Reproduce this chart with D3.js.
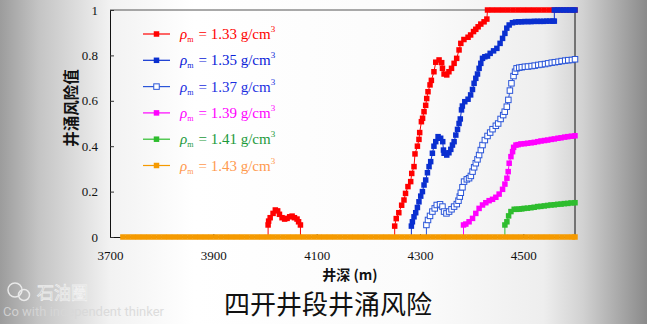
<!DOCTYPE html>
<html><head><meta charset="utf-8">
<script src="https://cdn.jsdelivr.net/npm/d3@7"></script>
<style>
html,body{margin:0;padding:0;background:#fff;}
svg{display:block;}
</style></head>
<body>
<svg id="chart" width="647" height="324"></svg>
<script>
// ---------- DATA ----------
const xTicks = [3700, 3900, 4100, 4300, 4500];
const yTicks = [0, 0.2, 0.4, 0.6, 0.8, 1];
const yTickLabels = ["0", "0.2", "0.4", "0.6", "0.8", "1"];
const densities = ["1.33", "1.35", "1.37", "1.39", "1.41", "1.43"];

const s133 = [
  [3725,0],[4006,0],[4006,0.053],[4007,0.07],[4010,0.085],[4015.6,0.104],[4020,0.119],[4024.5,0.115],[4028,0.1],
  [4033,0.085],[4038,0.079],[4042.8,0.082],[4047.8,0.089],[4052.5,0.092],[4057,0.085],[4062,0.079],[4065,0.067],
  [4068.6,0.053],[4068.6,0],[4251,0],[4251,0.048],[4254,0.081],[4259,0.107],[4264.5,0.14],[4269,0.163],[4272,0.192],
  [4276.7,0.222],[4282,0.244],[4284,0.28],[4288.4,0.31],[4290.3,0.366],[4295,0.40],[4298,0.43],[4299.4,0.46],
  [4302.7,0.508],[4305,0.523],[4307.8,0.552],[4311,0.58],[4313,0.61],[4315.5,0.64],[4319.4,0.67],[4322,0.69],
  [4327,0.728],[4330.5,0.77],[4336.9,0.78],[4342,0.768],[4343.5,0.743],[4346.6,0.718],[4351.8,0.714],[4356,0.728],
  [4361,0.743],[4366,0.765],[4371,0.787],[4375.6,0.824],[4379,0.853],[4385,0.87],[4393,0.88],[4398,0.89],
  [4403.6,0.905],[4408,0.915],[4412.5,0.926],[4417.7,0.938],[4424,0.948],[4429.4,0.96],[4430.7,1],
  [4440,1],[4450,1],[4460,1],[4470,1],[4480,1],[4490,1],[4500,1],[4510,1],[4520,1],[4530,1],[4540,1],[4550,1],
  [4560,1],[4570,1],[4580,1],[4590,1],[4600,1]
];
const s135 = [
  [3725,0],[4283.3,0],[4283.3,0.048],[4285.3,0.067],[4288.4,0.089],[4291.7,0.107],[4295,0.13],[4298,0.155],
  [4301.4,0.18],[4304.7,0.2],[4307.8,0.229],[4311,0.251],[4314.4,0.283],[4317.5,0.31],[4320.7,0.332],[4324,0.369],
  [4327,0.40],[4330.5,0.42],[4335,0.442],[4340,0.435],[4344,0.42],[4345.4,0.383],[4346.6,0.369],[4351.8,0.361],
  [4356,0.371],[4359.6,0.386],[4362.8,0.405],[4366,0.42],[4369.3,0.449],[4372.6,0.474],[4375.6,0.5],[4378,0.52],
  [4380.3,0.56],[4382,0.577],[4386.7,0.596],[4393,0.607],[4398,0.626],[4401.6,0.65],[4404.7,0.677],[4408,0.699],
  [4411.3,0.718],[4414.4,0.743],[4417.7,0.765],[4421,0.787],[4425.5,0.794],[4430.7,0.797],[4435.8,0.809],
  [4442.4,0.82],[4448.8,0.831],[4455,0.853],[4459.8,0.875],[4464.3,0.897],[4468,0.92],[4472.6,0.934],[4479,0.944],
  [4485,0.947],[4491,0.948],[4497,0.948],[4503,0.949],[4509,0.949],[4515,0.949],[4521,0.95],[4527,0.95],
  [4533,0.95],[4539,0.95],[4545,0.951],[4551,0.951],[4557,0.951],[4560,0.951],[4560,1],[4566,1],[4572,1],
  [4578,1],[4584,1],[4590,1],[4596,1],[4600,1]
];
const s137 = [
  [3725,0],[4312.4,0],[4312.4,0.053],[4315.5,0.075],[4319.4,0.093],[4324,0.112],[4328.5,0.126],[4332.4,0.141],
  [4338.8,0.144],[4343.5,0.134],[4346.6,0.112],[4351.2,0.104],[4356.3,0.112],[4361,0.122],[4366,0.134],
  [4371.2,0.145],[4374.5,0.16],[4377,0.178],[4379,0.195],[4382.2,0.219],[4385.3,0.244],[4390.6,0.254],
  [4395,0.259],[4398.4,0.269],[4401.7,0.288],[4404.8,0.307],[4408,0.325],[4411.3,0.342],[4414.4,0.361],
  [4417.7,0.383],[4421,0.405],[4425.5,0.427],[4430.7,0.445],[4435.8,0.46],[4440.4,0.475],[4446.8,0.49],
  [4451.3,0.5],[4456,0.52],[4461,0.537],[4464,0.552],[4468,0.574],[4471,0.604],[4474,0.645],[4477,0.677],
  [4481,0.709],[4484,0.728],[4487,0.743],[4492,0.746],[4497,0.748],[4503,0.75],[4509,0.751],[4516,0.753],
  [4522,0.755],[4529,0.758],[4535,0.76],[4542,0.762],[4548,0.765],[4555,0.768],[4561,0.77],[4568,0.772],
  [4574,0.775],[4581,0.777],[4587,0.779],[4594,0.78],[4600,0.783]
];
const s139 = [
  [3725,0],[4384.2,0],[4384.2,0.053],[4388.7,0.057],[4395,0.067],[4401.7,0.082],[4408,0.104],[4414.4,0.126],
  [4421,0.141],[4427.4,0.151],[4433.8,0.16],[4440.4,0.166],[4446.8,0.175],[4453.2,0.189],[4459.8,0.21],
  [4464.3,0.233],[4468.2,0.259],[4470.7,0.288],[4472.6,0.325],[4476,0.354],[4479.2,0.376],[4481.2,0.395],
  [4485.7,0.405],[4490,0.407],[4495.4,0.41],[4502,0.411],[4508.3,0.413],[4515,0.415],[4521.2,0.417],
  [4528,0.42],[4534.2,0.423],[4541,0.425],[4547.1,0.427],[4554,0.43],[4560,0.432],[4567,0.435],[4573,0.437],
  [4580,0.44],[4586,0.442],[4593,0.444],[4600,0.446]
];
const s141 = [
  [3725,0],[4464.3,0],[4464.3,0.053],[4468.2,0.067],[4471.5,0.093],[4476,0.112],[4482.3,0.122],[4487,0.122],
  [4492,0.123],[4497,0.124],[4501.7,0.126],[4508,0.127],[4514.7,0.129],[4521,0.131],[4527.7,0.134],[4534,0.135],
  [4540.5,0.137],[4547,0.139],[4553.5,0.141],[4560,0.142],[4566.5,0.144],[4573,0.145],[4579.3,0.147],
  [4586,0.148],[4592.3,0.15],[4600,0.151]
];
const s143 = [
  [3725,0],[3735,0],[3745,0],[3755,0],[3765,0],[3775,0],[3785,0],[3795,0],[3805,0],[3815,0],[3825,0],[3835,0],
  [3845,0],[3855,0],[3865,0],[3875,0],[3885,0],[3895,0],[3905,0],[3915,0],[3925,0],[3935,0],[3945,0],[3955,0],
  [3965,0],[3975,0],[3985,0],[3995,0],[4005,0],[4015,0],[4025,0],[4035,0],[4045,0],[4055,0],[4065,0],[4075,0],
  [4085,0],[4095,0],[4105,0],[4115,0],[4125,0],[4135,0],[4145,0],[4155,0],[4165,0],[4175,0],[4185,0],[4195,0],
  [4205,0],[4215,0],[4225,0],[4235,0],[4245,0],[4255,0],[4265,0],[4275,0],[4285,0],[4295,0],[4305,0],[4315,0],
  [4325,0],[4335,0],[4345,0],[4355,0],[4365,0],[4375,0],[4385,0],[4395,0],[4405,0],[4415,0],[4425,0],[4435,0],
  [4445,0],[4455,0],[4465,0],[4475,0],[4485,0],[4495,0],[4505,0],[4515,0],[4525,0],[4535,0],[4545,0],[4555,0],
  [4565,0],[4575,0],[4585,0],[4595,0],[4600,0]
];

// ---------- STYLES ----------
const series = [
  {data: s133, color: "#ff0000", fill: "#ff0000", text: "#ff0000"},
  {data: s135, color: "#0a2fd0", fill: "#0a2fd0", text: "#0a22d8"},
  {data: s137, color: "#2a55d8", fill: "#ffffff", text: "#1a2ee0"},
  {data: s139, color: "#ff00ff", fill: "#ff00ff", text: "#ff00ff"},
  {data: s141, color: "#2ebd2e", fill: "#2ebd2e", text: "#1c9a3c"},
  {data: s143, color: "#f59a00", fill: "#f59a00", text: "#ff9a50"}
];

const svg = d3.select("#chart");
const W = 647, H = 324;

// background vignette
const defs = svg.append("defs");
const lg = defs.append("linearGradient").attr("id", "bg").attr("x1", "0").attr("x2", "1").attr("y1", "0").attr("y2", "0");
[[0, "#9c9c9c"], [0.06, "#c4c4c4"], [0.17, "#f2f2f2"], [0.3, "#ffffff"], [0.65, "#fbfbfb"], [0.84, "#eeeeee"], [0.9, "#d2d2d2"], [1, "#8a8a8a"]]
  .forEach(([o, c]) => lg.append("stop").attr("offset", o).attr("stop-color", c));
svg.append("rect").attr("width", W).attr("height", H).attr("fill", "url(#bg)");

const x = d3.scaleLinear().domain([3700, 4600]).range([110, 575]);
const y = d3.scaleLinear().domain([0, 1]).range([237, 10]);

// frame
svg.append("line").attr("x1", x(3700)).attr("x2", x(4600)).attr("y1", y(1)).attr("y2", y(1)).attr("stroke", "#555").attr("stroke-width", 1);
svg.append("line").attr("x1", x(4600)).attr("x2", x(4600)).attr("y1", y(1)).attr("y2", y(0)).attr("stroke", "#111").attr("stroke-width", 1);

// axes
const xAxis = d3.axisBottom(x).tickValues(xTicks).tickSizeInner(-3).tickSizeOuter(0).tickPadding(14).tickFormat(d3.format("d"));
const gx = svg.append("g").attr("transform", `translate(0,${y(0)})`).call(xAxis);
gx.select(".domain").attr("stroke", "#111");
gx.selectAll(".tick line").attr("stroke", "#333");
gx.selectAll("text").attr("font-family", "Liberation Serif, Times New Roman, serif").attr("font-size", 13).attr("fill", "#111");

const yAxis = d3.axisLeft(y).tickValues(yTicks).tickSizeInner(-4).tickSizeOuter(0).tickPadding(12)
  .tickFormat((d, i) => yTickLabels[i]);
const gy = svg.append("g").attr("transform", `translate(${x(3700)},0)`).call(yAxis);
gy.select(".domain").attr("stroke", "#111");
gy.selectAll(".tick line").attr("stroke", "#333");
gy.selectAll("text").attr("font-family", "Liberation Serif, Times New Roman, serif").attr("font-size", 13).attr("fill", "#111");

// series
const line = d3.line().x(d => x(d[0])).y(d => y(d[1]));
const ms = 5.5;
series.forEach((s, i) => {
  const g = svg.append("g");
  g.append("path").attr("d", line(s.data)).attr("fill", "none").attr("stroke", s.color).attr("stroke-width", 1);
  const pts = i === 5 ? s.data : s.data.filter(d => d[1] > 0);
  g.selectAll("rect").data(pts).join("rect")
    .attr("x", d => x(d[0]) - ms / 2).attr("y", d => y(d[1]) - ms / 2)
    .attr("width", ms).attr("height", ms)
    .attr("fill", s.fill).attr("stroke", i === 2 ? s.color : "none").attr("stroke-width", 1);
});

// legend
const legY0 = 34, legDy = 26.3;
series.forEach((s, i) => {
  const cy = legY0 + i * legDy;
  const g = svg.append("g");
  g.append("line").attr("x1", 143).attr("x2", 170).attr("y1", cy).attr("y2", cy).attr("stroke", s.color).attr("stroke-width", 1.2);
  g.append("rect").attr("x", 156.5 - ms / 2).attr("y", cy - ms / 2).attr("width", ms).attr("height", ms)
    .attr("fill", s.fill).attr("stroke", i === 2 ? s.color : "none");
  const t = g.append("text").attr("x", 180).attr("y", cy + 5).attr("fill", s.text)
    .attr("font-family", "Liberation Serif, Times New Roman, serif").attr("font-size", 15);
  t.append("tspan").attr("font-style", "italic").text("ρ");
  t.append("tspan").attr("font-size", 8).attr("dy", 3).text("m");
  t.append("tspan").attr("dy", -3).attr("dx", 5).text("= " + densities[i] + " g/cm");
  t.append("tspan").attr("font-size", 9).attr("dy", -7).text("3");
});

// axis titles
svg.append("text").attr("transform", "translate(77,108) rotate(-90)").attr("text-anchor", "middle")
  .attr("font-family", "Noto Sans CJK SC, sans-serif").attr("font-weight", 700).attr("font-size", 15.5).attr("fill", "#111")
  .text("井涌风险值");
svg.append("text").attr("x", 350).attr("y", 280).attr("text-anchor", "middle")
  .attr("font-family", "Noto Sans CJK SC, sans-serif").attr("font-weight", 700).attr("font-size", 14).attr("fill", "#111")
  .text("井深 (m)");

// title
svg.append("text").attr("x", 328).attr("y", 314).attr("text-anchor", "middle")
  .attr("font-family", "Noto Sans CJK SC, sans-serif").attr("font-size", 26).attr("fill", "#111")
  .text("四开井段井涌风险");

// watermark
const wm = svg.append("g").attr("opacity", 0.85);
wm.append("circle").attr("cx", 15).attr("cy", 290).attr("r", 7).attr("fill", "none").attr("stroke", "#f4f4f4").attr("stroke-width", 1.5);
wm.append("circle").attr("cx", 24).attr("cy", 295).attr("r", 5.5).attr("fill", "none").attr("stroke", "#f4f4f4").attr("stroke-width", 1.5);
wm.append("text").attr("x", 37).attr("y", 299).attr("font-family", "Noto Sans CJK SC, sans-serif").attr("font-size", 17)
  .attr("fill", "#bdbdbd").attr("stroke", "#f4f4f4").attr("stroke-width", 0.8).text("石油圈");
wm.append("text").attr("x", 3).attr("y", 316).attr("font-family", "Roboto, sans-serif").attr("font-size", 13)
  .attr("fill", "#d8d8d8").text("Co with independent thinker");
</script>
</body></html>
